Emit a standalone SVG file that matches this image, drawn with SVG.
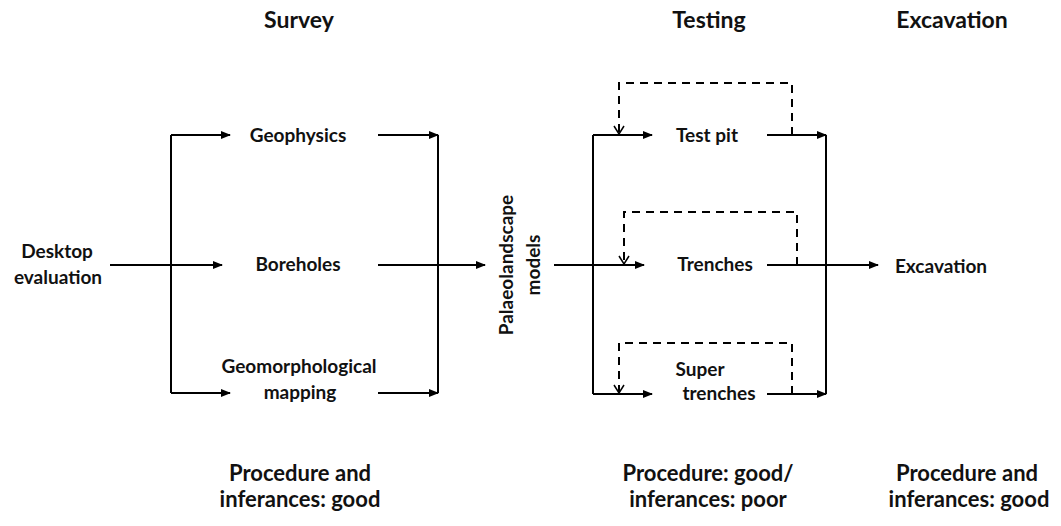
<svg xmlns="http://www.w3.org/2000/svg" width="1061" height="526" viewBox="0 0 1061 526">
<style>
text{font-family:Lato,"Liberation Sans",sans-serif;font-weight:bold;fill:#111;text-anchor:middle}
.h{font-size:23px}
.n{font-size:19px}
.b{font-size:22px}
.c{stroke:#000;stroke-width:2;fill:none}
.d{stroke:#000;stroke-width:2;fill:none;stroke-dasharray:8,6}
</style>
<defs>
<marker id="a" markerWidth="10" markerHeight="8" refX="9" refY="4" orient="auto" markerUnits="userSpaceOnUse"><path d="M0,0 L10,4 L0,8 Z" fill="#000"/></marker>
<marker id="o" markerWidth="10" markerHeight="12" refX="9" refY="6" orient="auto" markerUnits="userSpaceOnUse" viewBox="0 0 10 12"><path d="M1,1 L9,6 L1,11" fill="none" stroke="#000" stroke-width="1.5"/></marker>
</defs>
<rect width="1061" height="526" fill="#fff"/>
<g id="headers">
<text class="h" x="299" y="28">Survey</text>
<text class="h" x="709" y="28">Testing</text>
<text class="h" x="952" y="28">Excavation</text>
</g>
<g id="desktop"><text class="n" x="57" y="258">Desktop</text><text class="n" x="58" y="284">evaluation</text></g>
<g id="geophysics"><text class="n" x="298" y="142">Geophysics</text></g>
<g id="boreholes"><text class="n" x="298" y="271">Boreholes</text></g>
<g id="geomorph"><text class="n" x="299" y="373">Geomorphological</text><text class="n" x="300" y="399">mapping</text></g>
<g id="palaeo"><text class="n" transform="translate(513,265) rotate(-90)">Palaeolandscape</text><text class="n" transform="translate(540,265) rotate(-90)">models</text></g>
<g id="testpit"><text class="n" x="707" y="142">Test pit</text></g>
<g id="trenches"><text class="n" x="715" y="271">Trenches</text></g>
<g id="supertrenches"><text class="n" x="700" y="376">Super</text><text class="n" x="719" y="400">trenches</text></g>
<g id="excavation"><text class="n" x="941" y="273">Excavation</text></g>
<g id="notes">
<text class="b" x="300" y="481">Procedure and</text>
<text class="b" x="300" y="507">inferances: good</text>
<text class="b" x="708" y="481">Procedure: good/</text>
<text class="b" x="708" y="507">inferances: poor</text>
<text class="b" x="967" y="481">Procedure and</text>
<text class="b" x="969" y="507">inferances: good</text>
</g>
<g id="connectors">
<path class="c" d="M110,265 H222" marker-end="url(#a)"/>
<path class="c" d="M171,135 V393"/>
<path class="c" d="M171,135 H230" marker-end="url(#a)"/>
<path class="c" d="M171,393 H230" marker-end="url(#a)"/>
<path class="c" d="M378,135 H438" marker-end="url(#a)"/>
<path class="c" d="M378,393 H438" marker-end="url(#a)"/>
<path class="c" d="M438,135 V393"/>
<path class="c" d="M378,265 H485" marker-end="url(#a)"/>
<path class="c" d="M554,265 H644" marker-end="url(#a)"/>
<path class="c" d="M593,135 V394"/>
<path class="c" d="M593,135 H652" marker-end="url(#a)"/>
<path class="c" d="M593,394 H652" marker-end="url(#a)"/>
<path class="c" d="M767,135 H826" marker-end="url(#a)"/>
<path class="c" d="M767,394 H826" marker-end="url(#a)"/>
<path class="c" d="M826,135 V394"/>
<path class="c" d="M767,265 H878" marker-end="url(#a)"/>
<path class="d" d="M792,135 V83 H619 V134" marker-end="url(#o)"/>
<path class="d" d="M797,265 V212 H624 V264" marker-end="url(#o)"/>
<path class="d" d="M792,394 V343 H619 V393" marker-end="url(#o)"/>
</g>
</svg>
